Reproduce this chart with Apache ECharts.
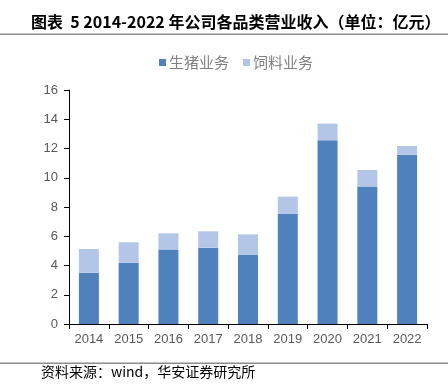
<!DOCTYPE html>
<html><head><meta charset="utf-8">
<script src="https://cdn.jsdelivr.net/npm/echarts@6/dist/echarts.min.js"></script>
<style>html,body{margin:0;padding:0;background:#fff;}#c{width:448px;height:389px;}</style>
</head><body><div id="c"></div>
<script>
const years = ['2014','2015','2016','2017','2018','2019','2020','2021','2022'];
const pigRevenue = [3.51, 4.19, 5.10, 5.22, 4.72, 7.52, 12.56, 9.41, 11.58];
const feedRevenue = [1.62, 1.40, 1.10, 1.12, 1.41, 1.19, 1.14, 1.12, 0.59];
const seriesNames = ['生猪业务', '饲料业务'];
const titleText = '图表  5 2014-2022 年公司各品类营业收入（单位：亿元）';
const sourceText = '资料来源：wind，华安证券研究所';

const chart = echarts.init(document.getElementById('c'), null, {renderer: 'canvas'});
const cjk = '"Noto Sans CJK SC", "Liberation Sans", sans-serif';
chart.setOption({
  animation: false,
  backgroundColor: '#fff',
  title: {
    text: titleText, left: 26, top: 9,
    textStyle: {fontFamily: cjk, fontSize: 16, fontWeight: 'bold', color: '#000'}
  },
  graphic: [
    {type: 'rect', shape: {x: 0, y: 33.5, width: 448, height: 1.5}, style: {fill: '#8c8c8c'}},
    {type: 'rect', shape: {x: 0, y: 362.5, width: 448, height: 1.5}, style: {fill: '#8c8c8c'}},
    {type: 'text', left: 41, top: 365, style: {text: sourceText, font: '14px ' + cjk, fill: '#000'}}
  ],
  legend: {
    left: 154, top: 50, itemWidth: 7, itemHeight: 7, itemGap: 14,
    icon: 'rect',
    textStyle: {fontFamily: cjk, fontSize: 15, color: '#808080', padding: [0,0,0,-2]},
    data: seriesNames
  },
  grid: {left: 69, right: 21, top: 90, bottom: 65, containLabel: false},
  xAxis: {
    type: 'category', data: years,
    axisLine: {lineStyle: {color: '#000', width: 1}},
    axisTick: {show: true, length: 5, lineStyle: {color: '#000'}},
    axisLabel: {fontFamily: '"Liberation Sans", Arial, sans-serif', fontSize: 13, color: '#595959', margin: 9}
  },
  yAxis: {
    type: 'value', min: 0, max: 16, interval: 2,
    axisLine: {show: true, lineStyle: {color: '#000', width: 1}},
    axisTick: {show: true, length: 5, lineStyle: {color: '#000'}},
    splitLine: {show: false},
    axisLabel: {fontFamily: '"Liberation Sans", Arial, sans-serif', fontSize: 13, color: '#595959', margin: 11}
  },
  series: [
    {name: seriesNames[0], type: 'bar', stack: 'a', data: pigRevenue, barWidth: 20,
     itemStyle: {color: '#4F81BD'}},
    {name: seriesNames[1], type: 'bar', stack: 'a', data: feedRevenue, barWidth: 20,
     itemStyle: {color: '#B4C6E7'}}
  ]
});
</script></body></html>
